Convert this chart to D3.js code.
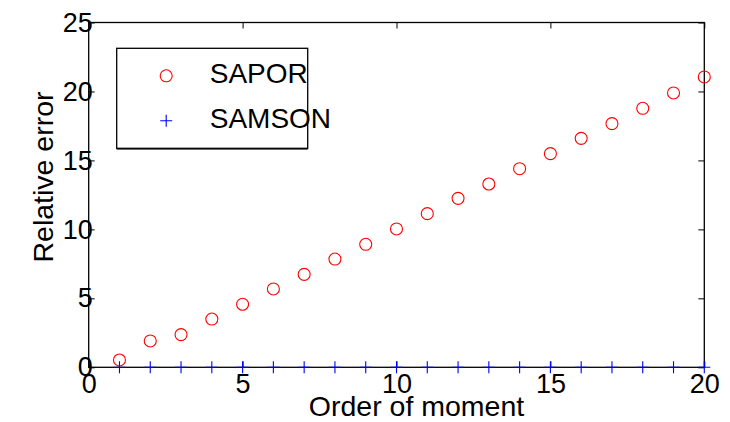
<!DOCTYPE html>
<html>
<head>
<meta charset="utf-8">
<script src="https://cdn.jsdelivr.net/npm/d3@7"></script>
<style>
	body { margin: 0; background: #fff; }
	text { font-family: "Liberation Sans", Arial, sans-serif; fill: #000; }
</style>
</head>
<body>
<svg id="svg_plot" width="730" height="422"></svg>
<script>
// order of moment (x), relative error of each method
var orders = [1, 2, 3, 4, 5, 6, 7, 8, 9, 10, 11, 12, 13, 14, 15, 16, 17, 18, 19, 20];
var sapor = [0.53, 1.91, 2.37, 3.5, 4.57, 5.68, 6.74, 7.85, 8.92, 10.03,
	11.14, 12.25, 13.29, 14.4, 15.49, 16.6, 17.67, 18.78, 19.89, 21.05];
var samson = [0, 0, 0, 0, 0, 0, 0, 0, 0, 0, 0, 0, 0, 0, 0, 0, 0, 0, 0, 0];
var xTicks = [0, 5, 10, 15, 20];
var yTicks = [0, 5, 10, 15, 20, 25];
var seriesNames = ["SAPOR", "SAMSON"];

var svg = d3.select("#svg_plot");
var margin = {top: 22.5, right: 25.7, bottom: 54.7, left: 88.7};
var innerWidth = svg.attr("width") - margin.left - margin.right;
var innerHeight = svg.attr("height") - margin.top - margin.bottom;

var x = d3.scaleLinear().domain([0, 20]).range([0, innerWidth]);
var y = d3.scaleLinear().domain([0, 25]).range([innerHeight, 0]);

var g = svg.append("g")
	.attr("transform", `translate(${margin.left}, ${margin.top})`);

// axes: ticks point inwards, labels on bottom / left only
function styleAxis(sel) {
	sel.select(".domain").remove();
	sel.selectAll(".tick line").attr("stroke", "#000").attr("stroke-width", 1);
	sel.selectAll(".tick text").style("font-size", "27px");
}

g.append("g")
	.attr("transform", "translate(0," + innerHeight + ")")
	.call(d3.axisBottom(x).tickValues(xTicks).tickSizeInner(-6).tickPadding(3))
	.call(styleAxis)
	.selectAll(".tick text").attr("dy", "0.85em");

g.append("g")
	.call(d3.axisLeft(y).tickValues(yTicks).tickSizeInner(-6).tickPadding(-4))
	.call(styleAxis);

g.append("g")
	.call(d3.axisTop(x).tickValues(xTicks).tickSizeInner(-6).tickFormat(""))
	.call(styleAxis);

g.append("g")
	.attr("transform", "translate(" + innerWidth + ",0)")
	.call(d3.axisRight(y).tickValues(yTicks).tickSizeInner(-6).tickFormat(""))
	.call(styleAxis);

g.append("rect")
	.attr("width", innerWidth)
	.attr("height", innerHeight)
	.attr("fill", "none")
	.attr("stroke", "#000")
	.attr("stroke-width", 1.3);

// axis titles
svg.append("text")
	.attr("x", 416.5)
	.attr("y", 416)
	.attr("text-anchor", "middle")
	.style("font-size", "28.5px")
	.text("Order of moment");

svg.append("text")
	.attr("transform", "translate(53,177) rotate(-90)")
	.attr("text-anchor", "middle")
	.style("font-size", "28.5px")
	.text("Relative error");

// SAPOR: red circles
g.append("g")
	.selectAll("circle")
	.data(orders)
	.enter().append("circle")
	.attr("cx", d => x(d))
	.attr("cy", (d, i) => y(sapor[i]))
	.attr("r", 6)
	.attr("fill", "none")
	.attr("stroke", "#ff0000")
	.attr("stroke-width", 1.1);

// SAMSON: blue plus signs
function plusPath(s) {
	return "M" + (-s) + ",0H" + s + "M0," + (-s) + "V" + s;
}

g.append("g")
	.selectAll("path")
	.data(orders)
	.enter().append("path")
	.attr("transform", (d, i) => "translate(" + x(d) + "," + y(samson[i]) + ")")
	.attr("d", plusPath(6))
	.attr("fill", "none")
	.attr("stroke", "#0000ff")
	.attr("stroke-width", 1.1);

// legend
var legend = svg.append("g")
	.attr("transform", "translate(116.7,48.3)");

legend.append("rect")
	.attr("width", 191)
	.attr("height", 100)
	.attr("fill", "#fff")
	.attr("stroke", "#000")
	.attr("stroke-width", 1.3);

legend.append("line")
	.attr("x1", 0).attr("x2", 191)
	.attr("y1", 100.8).attr("y2", 100.8)
	.attr("stroke", "#000")
	.attr("stroke-width", 1);

var rows = legend.selectAll(".row")
	.data(seriesNames)
	.enter().append("g")
	.attr("class", "row")
	.attr("transform", (d, i) => "translate(0," + (27.5 + i * 45) + ")");

rows.filter((d, i) => i == 0)
	.append("circle")
	.attr("cx", 49.5)
	.attr("r", 6)
	.attr("fill", "none")
	.attr("stroke", "#ff0000")
	.attr("stroke-width", 1.1);

rows.filter((d, i) => i == 1)
	.append("path")
	.attr("transform", "translate(49.5,0)")
	.attr("d", plusPath(6))
	.attr("stroke", "#0000ff")
	.attr("stroke-width", 1.1);

rows.append("text")
	.attr("x", 93)
	.attr("y", 7.5)
	.style("font-size", "28px")
	.text(d => d);
</script>
</body>
</html>
